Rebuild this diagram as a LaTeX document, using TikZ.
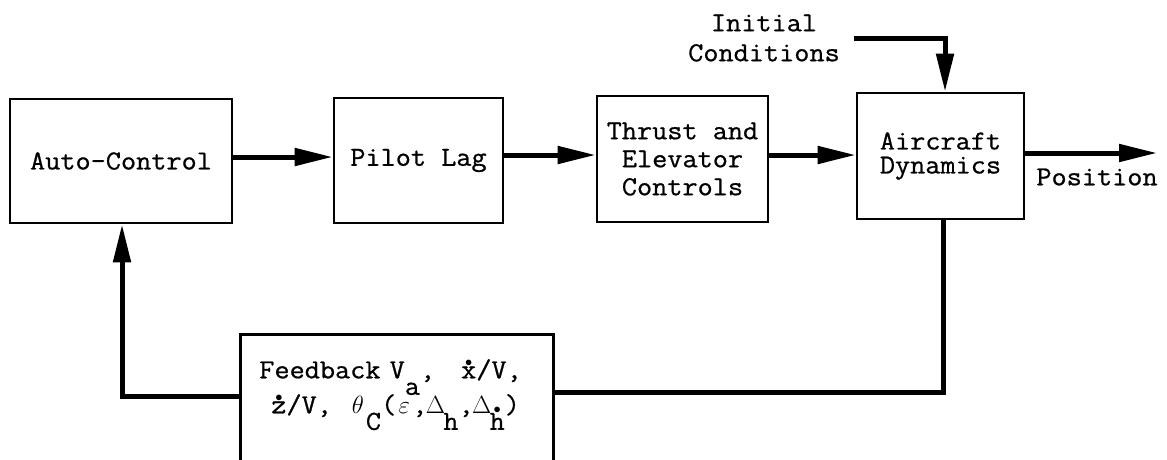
\documentclass[tikz,border=0pt]{standalone}
\usepackage{fontspec}
\newfontfamily\tw{Latin Modern Mono}[FakeStretch=1.07,FakeBold=0.8]
\usetikzlibrary{arrows.meta,calc}
% typewriter-style lowered subscript, dot accent and fixed-pitch cell for math glyphs
\newcommand\lowr[1]{\smash{\raisebox{-0.6em}{#1}}}
\newcommand\dotover[2]{\ooalign{#2\cr\hidewidth\raisebox{#1}{$\scriptscriptstyle\bullet$}\hidewidth\cr}}
\newcommand\cell[1]{\makebox[16pt]{#1}}
\tikzset{
  txt/.style={font=\tw\fontsize{27.5}{#1}\selectfont},
  txt/.default=30,
  blk/.style={draw, line width=2.6pt, inner sep=0pt, align=center, txt},
  wire/.style={line width=5pt},
  conn/.style={wire, -{Triangle[length=38pt,width=17pt]}},
}
\begin{document}
\begin{tikzpicture}[x=1pt,y=-1pt]
\useasboundingbox (0,0) rectangle (1167,459);
\clip (0,0) rectangle (1167,459);

% blocks of the forward path
\node[blk, minimum width=222pt, minimum height=124pt] (ac) at (121,161) {Auto-Control};
\node[blk, minimum width=169pt, minimum height=125pt] (pl) at (418.5,160.5) {Pilot Lag};
\node[blk, txt=28, minimum width=171pt, minimum height=126pt] (te) at (682.5,159) {Thrust and\\Elevator\\Controls};
\node[blk, txt=24, minimum width=167pt, minimum height=126pt] (ad) at (940.5,156) {Aircraft\\Dynamics};

% feedback block (runs off the lower edge)
\node[blk, anchor=north west, align=left, text width=275pt, inner xsep=19pt, inner ysep=0pt,
      text height=44pt, text depth=140pt, txt=35] (fb) at (239,333)
  {Feedback V\lowr{a},\hspace*{26pt}\dotover{0.44em}{x}/V,\\
   \hspace*{12pt}\dotover{0.44em}{z}/V,\hspace*{18pt}\cell{$\theta$}\lowr{C}(\cell{$\varepsilon$},\cell{$\Delta$}\lowr{h},\cell{$\Delta$}\lowr{\dotover{0.58em}{h}})};

% free texts
\node[txt=30, align=center, inner xsep=14pt] (ic) at (764,38) {Initial\\Conditions};
\node[txt] (pos) at (1097,177) {Position};
\coordinate (posend) at (1157,153);

% forward connectors
\draw[conn] ([yshift=4pt]ac.east) -- ([yshift=4pt]ac.east -| pl.west);
\draw[conn] ([yshift=5.5pt]pl.east) -- ([yshift=5.5pt]pl.east -| te.west);
\draw[conn] ([yshift=4pt]te.east) -- ([yshift=4pt]te.east -| ad.west);
\draw[conn] ([yshift=3pt]ad.east) -- (posend);
\draw[conn] (ic.east) -| ([xshift=4.5pt]ad.north);

% feedback loop
\draw[wire] ([xshift=2.5pt]ad.south) |- ([yshift=-59pt]fb.north east);
\draw[conn] ([yshift=-63pt]fb.north west) -| ([xshift=1pt]ac.south);
\end{tikzpicture}
\end{document}
